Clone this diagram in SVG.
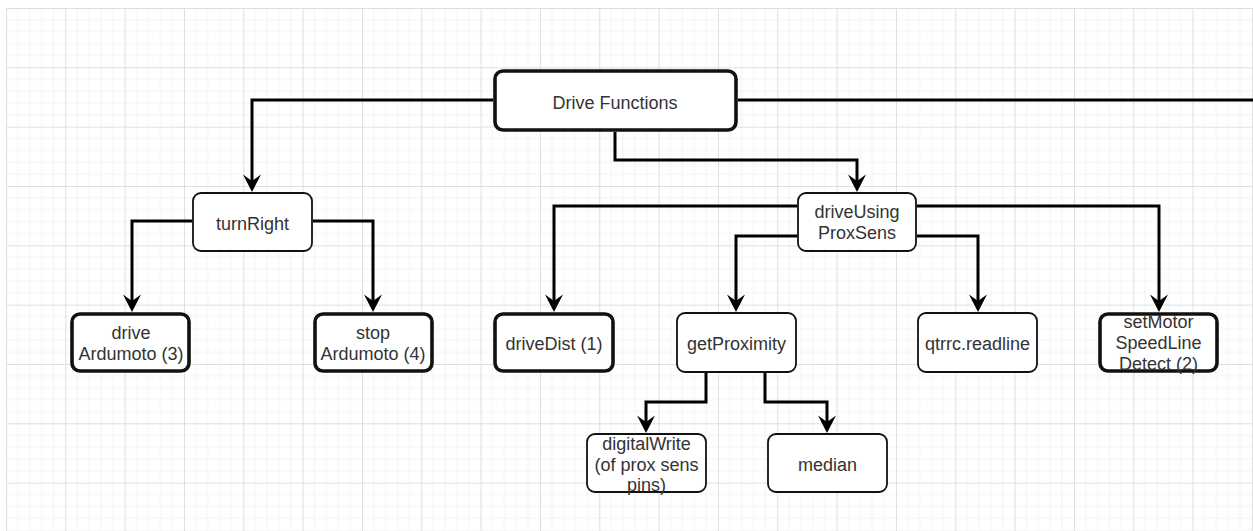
<svg xmlns="http://www.w3.org/2000/svg" width="1253" height="531" viewBox="0 0 1253 531">
  <style>
    .box { fill: #ffffff; stroke: #111111; }
    .thick { stroke-width: 3.6; }
    .thin { stroke-width: 1.8; }
    .lbl { font-family: "Liberation Sans", Arial, sans-serif; font-size: 18px; fill: #333333; text-anchor: middle; }
    .conn { fill: none; stroke: #000000; stroke-width: 3; stroke-linejoin: miter; }
  </style>
  <defs>
    <pattern id="grid" x="6" y="8" width="59.33" height="59.33" patternUnits="userSpaceOnUse">
      <path d="M11.87 0V59.33M23.73 0V59.33M35.6 0V59.33M47.47 0V59.33M0 11.87H59.33M0 23.73H59.33M0 35.6H59.33M0 47.47H59.33" stroke="#f3f3f3" stroke-width="1" fill="none"/>
      <path d="M0.5 0V59.33M0 0.5H59.33" stroke="#dedede" stroke-width="1" fill="none"/>
    </pattern>
    <marker id="arr" markerUnits="userSpaceOnUse" markerWidth="30" markerHeight="30" refX="0" refY="0" orient="auto" overflow="visible">
      <path d="M8,0 L-9.5,-9 L-3,0 L-9.5,9 Z" fill="#000000"/>
    </marker>
  </defs>
  <rect x="0" y="0" width="1253" height="531" fill="#ffffff"/>
  <rect x="6" y="8" width="1247" height="523" fill="url(#grid)"/>

  <g id="connectors">
    <path class="conn" d="M493 100H252V184" marker-end="url(#arr)"/>
    <path class="conn" d="M738 100H1253"/>
    <path class="conn" d="M615 132V160H857V184" marker-end="url(#arr)"/>
    <path class="conn" d="M192 221H132V304" marker-end="url(#arr)"/>
    <path class="conn" d="M313 221H373V304" marker-end="url(#arr)"/>
    <path class="conn" d="M797 206H554V304" marker-end="url(#arr)"/>
    <path class="conn" d="M797 236H736V304" marker-end="url(#arr)"/>
    <path class="conn" d="M917 206H1159V304" marker-end="url(#arr)"/>
    <path class="conn" d="M917 236H978V304" marker-end="url(#arr)"/>
    <path class="conn" d="M706 373V402H646V425" marker-end="url(#arr)"/>
    <path class="conn" d="M765 373V402H827V425" marker-end="url(#arr)"/>
  </g>

  <g id="drive-functions">
    <rect class="box thick" x="495" y="71" width="241" height="59" rx="8"/>
    <text class="lbl" x="615" y="109">Drive Functions</text>
  </g>
  <g id="turn-right">
    <rect class="box thin" x="193" y="193" width="119" height="58" rx="8"/>
    <text class="lbl" x="252.5" y="230">turnRight</text>
  </g>
  <g id="drive-ardumoto">
    <rect class="box thick" x="72" y="314" width="117" height="57" rx="8"/>
    <text class="lbl" x="131" y="339">drive</text>
    <text class="lbl" x="131" y="360">Ardumoto (3)</text>
  </g>
  <g id="stop-ardumoto">
    <rect class="box thick" x="315" y="314" width="117" height="57" rx="8"/>
    <text class="lbl" x="373" y="339">stop</text>
    <text class="lbl" x="373" y="360">Ardumoto (4)</text>
  </g>
  <g id="drive-using-proxsens">
    <rect class="box thin" x="798" y="193" width="118" height="58" rx="8"/>
    <text class="lbl" x="857" y="218">driveUsing</text>
    <text class="lbl" x="857" y="239">ProxSens</text>
  </g>
  <g id="drive-dist">
    <rect class="box thick" x="495" y="314" width="118" height="57" rx="8"/>
    <text class="lbl" x="554" y="350">driveDist (1)</text>
  </g>
  <g id="get-proximity">
    <rect class="box thin" x="677" y="313" width="119" height="59" rx="8"/>
    <text class="lbl" x="736.5" y="350">getProximity</text>
  </g>
  <g id="qtrrc-readline">
    <rect class="box thin" x="918" y="313" width="119" height="59" rx="8"/>
    <text class="lbl" x="977.5" y="350">qtrrc.readline</text>
  </g>
  <g id="set-motor-speed">
    <rect class="box thick" x="1100" y="314" width="117" height="57" rx="8"/>
    <text class="lbl" x="1158.5" y="328">setMotor</text>
    <text class="lbl" x="1158.5" y="349">SpeedLine</text>
    <text class="lbl" x="1158.5" y="370">Detect (2)</text>
  </g>
  <g id="digital-write">
    <rect class="box thin" x="587" y="434" width="119" height="58" rx="8"/>
    <text class="lbl" x="646.5" y="450">digitalWrite</text>
    <text class="lbl" x="646.5" y="471">(of prox sens</text>
    <text class="lbl" x="646.5" y="491">pins)</text>
  </g>
  <g id="median">
    <rect class="box thin" x="768" y="434" width="119" height="58" rx="8"/>
    <text class="lbl" x="827.5" y="471">median</text>
  </g>
</svg>
